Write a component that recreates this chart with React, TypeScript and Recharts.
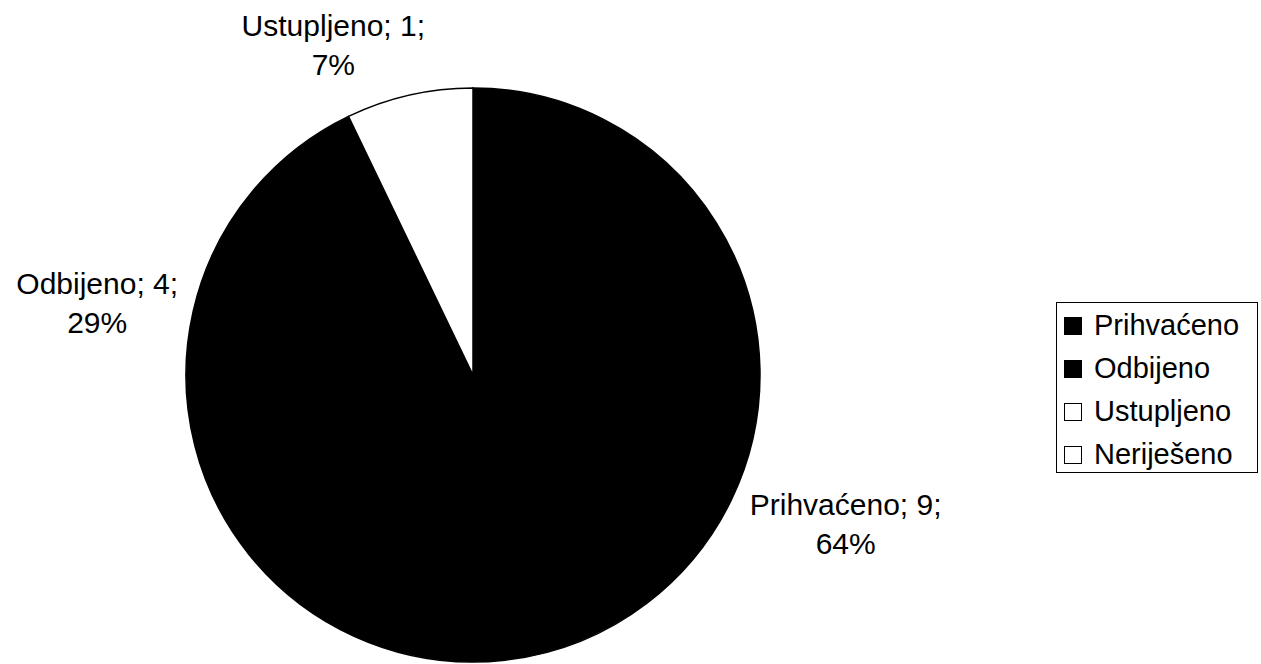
import { PieChart, Pie, Cell, Legend } from 'recharts';

const categories = ['Prihvaćeno', 'Odbijeno', 'Ustupljeno', 'Neriješeno'];
const counts = [9, 4, 1, 0];
const percents = ['64%', '29%', '7%', '0%'];
const sliceColors = ['#000000', '#000000', '#ffffff', '#ffffff'];

const data = categories.map((name, i) => ({ name, value: counts[i], pct: percents[i] }));

const RADIAN = Math.PI / 180;
const FONT = '"Liberation Sans", Arial, sans-serif';

// Excel puts the labels in "best fit" places, not exactly on the radius
const labelNudge: Record<string, { dx: number; dy: number }> = {
  'Prihvaćeno': { dx: 42, dy: -19 },
  'Odbijeno': { dx: -18, dy: 1 },
  'Ustupljeno': { dx: -58, dy: 19 },
};

function renderLabel(props: any) {
  const { cx, cy, midAngle, outerRadius, payload, value } = props;
  if (!value) return null;
  const name = payload.name;
  const r = outerRadius + 80;
  const nudge = labelNudge[name] || { dx: 0, dy: 0 };
  const x = cx + r * Math.cos(-midAngle * RADIAN) + nudge.dx;
  const y = cy + r * Math.sin(-midAngle * RADIAN) + nudge.dy;
  return (
    <text x={x} y={y} textAnchor="middle" fill="#000" fontSize={30} fontFamily={FONT}>
      <tspan x={x} dy={0}>{`${name}; ${value};`}</tspan>
      <tspan x={x} dy={39}>{payload.pct}</tspan>
    </text>
  );
}

function LegendBox() {
  return (
    <div
      style={{
        border: '1.5px solid #000',
        width: 202,
        height: 171,
        boxSizing: 'border-box',
        paddingTop: 1,
        fontFamily: FONT,
        fontSize: 29,
        lineHeight: '43px',
        color: '#000',
        background: '#fff',
      }}
    >
      {categories.map((name, i) => (
        <div key={name} style={{ display: 'flex', alignItems: 'center', height: 43, paddingLeft: 7 }}>
          <span
            style={{
              display: 'inline-block',
              width: 18,
              height: 18,
              boxSizing: 'border-box',
              background: sliceColors[i],
              border: '1.5px solid #000',
              marginRight: 12,
            }}
          />
          <span>{name}</span>
        </div>
      ))}
    </div>
  );
}

export default function App() {
  return (
    <div style={{ position: 'absolute', left: 0, top: 0, background: '#fff' }}>
      <PieChart width={1261} height={664}>
        <Pie
          data={data}
          dataKey="value"
          nameKey="name"
          cx={468}
          cy={370}
          outerRadius={287}
          startAngle={90}
          endAngle={-270}
          stroke="#000"
          strokeWidth={1.5}
          label={renderLabel}
          labelLine={false}
          isAnimationActive={false}
        >
          {data.map((d, i) => (
            <Cell key={d.name} fill={sliceColors[i]} />
          ))}
        </Pie>
        <Legend
          content={<LegendBox />}
          wrapperStyle={{ position: 'absolute', left: 1056, top: 302, width: 202, height: 171 }}
        />
      </PieChart>
    </div>
  );
}
